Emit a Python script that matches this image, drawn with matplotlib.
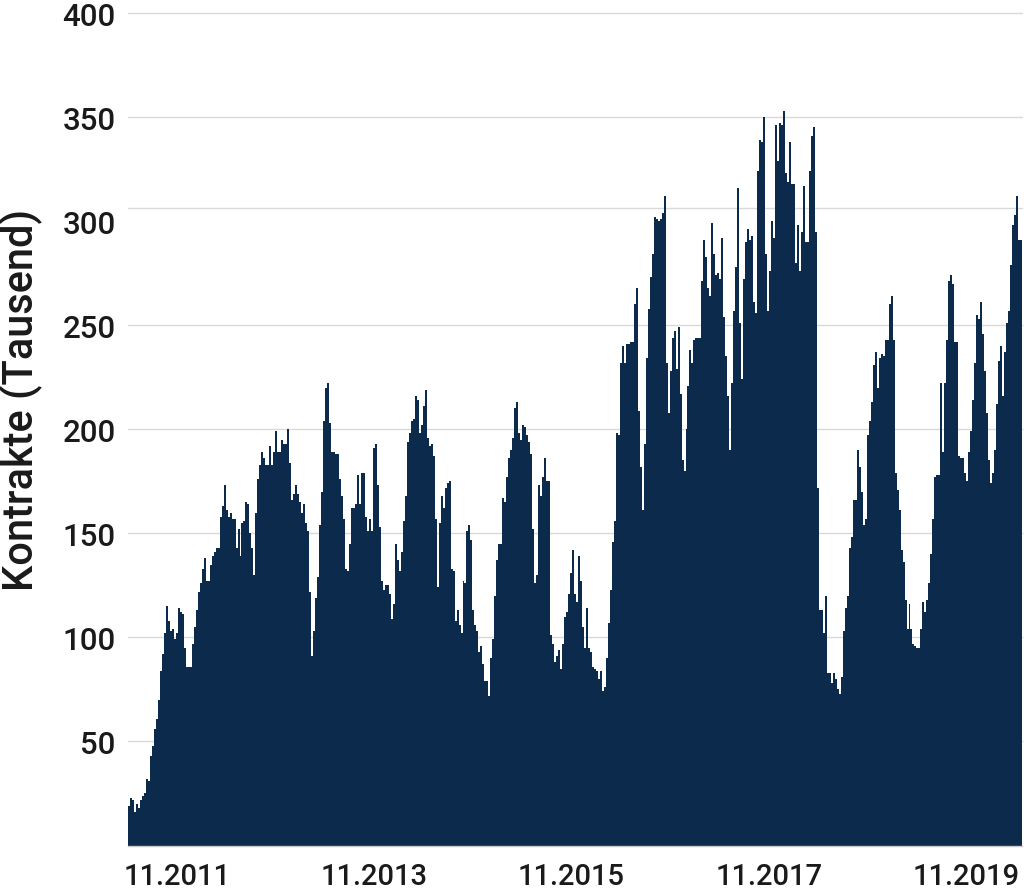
import matplotlib
matplotlib.use("Agg")
import matplotlib.pyplot as plt
import matplotlib.dates as mdates
import numpy as np
import pandas as pd

# Weekly open contracts in thousands
vals_2011_2012 = [
    19, 23, 22, 16, 20, 18, 22, 24, 25, 32,
    31, 43, 48, 56, 61, 70, 84, 92, 102, 115,
    108, 103, 104, 99, 102, 114, 112, 111, 95, 86,
    86, 86, 97, 105, 113, 122, 126, 133, 138, 127,
    127, 135, 139, 141, 143, 143, 158, 163, 173, 161,
    158, 160, 157, 157, 143, 152, 139, 155, 156, 165,
    164, 150, 143, 130, 160, 176, 183, 189, 186, 183,
    183, 192, 183, 189, 199, 189, 189,
]
vals_2012_2014 = [
    195, 193, 193, 200, 184, 166, 169, 173, 169, 165,
    160, 164, 155, 151, 122, 91, 103, 119, 129, 154,
    170, 204, 220, 222, 203, 189, 189, 188, 188, 176,
    168, 157, 133, 132, 145, 162, 162, 164, 178, 164,
    179, 179, 158, 151, 157, 151, 191, 193, 173, 153,
    127, 123, 125, 125, 121, 109, 116, 145, 137, 132,
    141, 156, 168, 194, 198, 204, 205, 216, 214, 198,
    202, 211, 219, 196, 192, 193, 187, 157, 124, 155,
]
vals_2014_2016 = [
    168, 162, 172, 174, 175, 133, 132, 108, 113, 106,
    102, 127, 126, 151, 154, 147, 113, 106, 103, 93,
    96, 87, 79, 79, 72, 90, 99, 120, 137, 145,
    145, 167, 165, 177, 186, 190, 196, 210, 213, 198,
    195, 202, 201, 197, 194, 188, 152, 126, 130, 173,
    168, 177, 186, 175, 175, 101, 97, 88, 91, 94,
    85, 97, 110, 112, 121, 131, 142, 121, 117, 139,
    127, 105, 95, 114, 95, 93, 86,
]
vals_2016_2017 = [
    85, 84, 80, 84, 74, 76, 90, 107, 123, 146,
    156, 198, 197, 232, 240, 232, 241, 241, 242, 242,
    260, 268, 209, 182, 161, 193, 234, 258, 273, 284,
    302, 301, 300, 301, 304, 312, 232, 208, 228, 244,
    247, 229, 249, 217, 185, 180, 200, 221, 238, 232,
    243, 244, 244, 244, 271, 291, 283, 268, 264, 299,
    284, 274, 275, 272, 292, 254, 235, 216, 190, 222,
    257, 278, 316, 251,
]
vals_2017_2018 = [
    224, 272, 290, 296, 291, 293, 261, 256, 324, 339,
    338, 350, 284, 257, 276, 300, 292, 346, 329, 347,
    346, 353, 323, 319, 338, 318, 318, 280, 298, 276,
    295, 317, 290, 290, 324, 341, 345, 295,
]
vals_2018_2019 = [
    172, 113, 113, 102, 120, 83, 83, 78, 83, 80,
    75, 73, 81, 103, 114, 120, 143, 148, 166, 166,
    190, 182, 170, 154, 157, 197, 204, 213, 231, 237,
    220, 234, 236, 235, 243, 243, 260, 264, 243, 179,
    171, 161, 142, 136, 118, 104, 116, 104, 97, 96,
    95, 95, 104, 117, 112, 118, 126, 140, 157, 177,
    178, 178, 222, 189, 222, 243, 271, 274, 270, 242, 242,
]
vals_2019_2020 = [
    187, 186, 186, 179, 175, 189, 199, 214, 232, 255,
    253, 261, 246, 228, 208, 185, 174, 179, 190, 212,
    233, 240, 216, 237, 251, 257, 279, 298, 303, 312,
    291, 291,
]

start_date = "2011-05-04"
end_date = "2020-05-27"
tick_dates = ["2011-11-01", "2013-11-01", "2015-11-01", "2017-11-01", "2019-11-01"]
tick_labels = ["11.2011", "11.2013", "11.2015", "11.2017", "11.2019"]
y_ticks = [50, 100, 150, 200, 250, 300, 350, 400]
grid_levels = [50, 100, 150, 200, 250, 306.5, 350, 400]

values = np.array(
    vals_2011_2012 + vals_2012_2014 + vals_2014_2016 + vals_2016_2017
    + vals_2017_2018 + vals_2018_2019 + vals_2019_2020,
    dtype=float,
)
edges = mdates.date2num(pd.date_range(start_date, end_date, periods=len(values) + 1))

plt.rcParams["font.family"] = ["Roboto", "DejaVu Sans"]
plt.rcParams["font.weight"] = "medium"
NAVY = "#0c2a4c"
TEXT = "#1a1a1a"

fig = plt.figure(figsize=(10.24, 8.95), dpi=100)
ax = fig.add_axes([128 / 1024, 48.5 / 895, 894 / 1024, 832.5 / 895])

for lvl in grid_levels:
    ax.axhline(lvl, color="#d9d9d9", linewidth=1.0, zorder=1, clip_on=False)

ax.stairs(values, edges, fill=True, color=NAVY, linewidth=0, zorder=2)

ax.set_xlim(edges[0], edges[-1])
ax.set_ylim(0, 400)

ax.set_xticks(mdates.date2num(pd.to_datetime(tick_dates)))
ax.set_xticklabels(tick_labels, fontsize=21, fontweight="medium")
ax.set_yticks(y_ticks)
ax.set_yticklabels([str(v) for v in y_ticks], fontsize=22.5, fontweight="medium")
ax.tick_params(axis="both", length=0, colors=TEXT)
ax.tick_params(axis="x", pad=12)
ax.tick_params(axis="y", pad=9)

ax.set_ylabel("Kontrakte (Tausend)", fontsize=30, fontweight="medium", color=TEXT)
ax.yaxis.set_label_coords(-0.096, 0.536)

for side in ["top", "right", "left"]:
    ax.spines[side].set_visible(False)
ax.spines["bottom"].set_color("#c8c8c8")
ax.spines["bottom"].set_linewidth(1.0)

fig.savefig("out.png", dpi=100)
